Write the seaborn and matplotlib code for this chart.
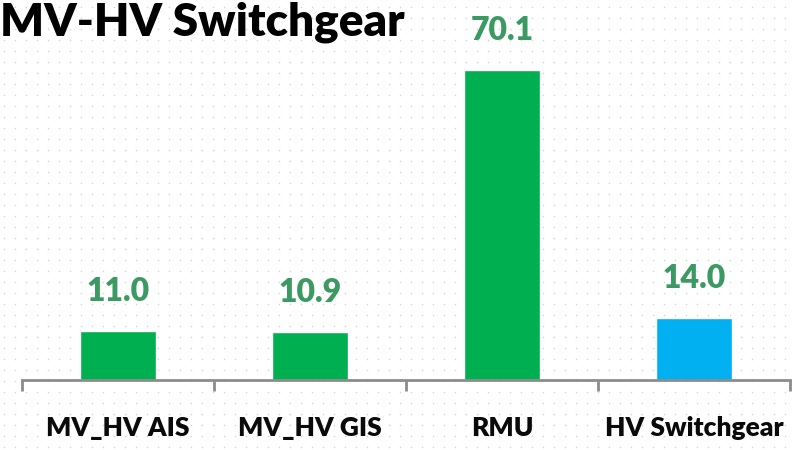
import numpy as np
import pandas as pd
import matplotlib
matplotlib.use("Agg")
import matplotlib.pyplot as plt
import seaborn as sns

categories = ["MV_HV AIS", "MV_HV GIS", "RMU", "HV Switchgear"]
values = [11.0, 10.9, 70.1, 14.0]
bar_colors = ["#00B050", "#00B050", "#00B050", "#00B0F0"]
title = "MV-HV Switchgear"

df = pd.DataFrame({"cat": categories, "val": values})

sns.set_theme(style="white")
plt.rcParams["font.family"] = ["Lato", "DejaVu Sans"]

W, H = 794, 450
fig = plt.figure(figsize=(W / 100, H / 100), dpi=100)
fig.patch.set_facecolor("white")

# dotted background pattern
bg = fig.add_axes([0, 0, 1, 1], zorder=-5)
bg.set_xlim(0, W)
bg.set_ylim(0, H)
gx, gy = np.meshgrid(np.arange(4, W, 11), np.arange(3, H, 11))
bg.scatter(gx.ravel(), gy.ravel(), s=1.2, color="#D3D3D3", linewidths=0)
bg.axis("off")

ax = fig.add_axes([22 / W, (H - 380) / H, (790 - 22) / W, 380 / H])
ax.patch.set_alpha(0)
sns.barplot(data=df, x="cat", y="val", hue="cat", palette=bar_colors,
            width=0.4, legend=False, ax=ax, saturation=1)
ax.set_xlim(-0.5, len(categories) - 0.5)
ax.set_ylim(0, 86)
ax.set_xlabel("")
ax.set_ylabel("")
ax.set_yticks([])
for s in ["top", "right", "left"]:
    ax.spines[s].set_visible(False)
ax.spines["bottom"].set_color("#8C8C8C")
ax.spines["bottom"].set_linewidth(2)

# category boundary ticks
ax.set_xticks(np.arange(len(categories)))
ax.set_xticks(np.arange(-0.5, len(categories)), minor=True)
ax.tick_params(axis="x", which="major", length=0, pad=26)
ax.tick_params(axis="x", which="minor", length=8, width=2, color="#8C8C8C",
               direction="out", bottom=True)
ax.set_xticklabels(categories, fontsize=19, fontweight="heavy", color="#0A0A0A")

for i, v in enumerate(values):
    ax.annotate(f"{v:.1f}", (i, v), xytext=(0, 18), textcoords="offset points",
                ha="center", va="bottom", fontsize=23, fontweight="heavy",
                color="#3A9A62")

fig.text(0, 1 - 22 / H, title, ha="left", va="center", fontsize=33,
         fontweight="heavy", color="black")

fig.savefig("out.png", dpi=100)
